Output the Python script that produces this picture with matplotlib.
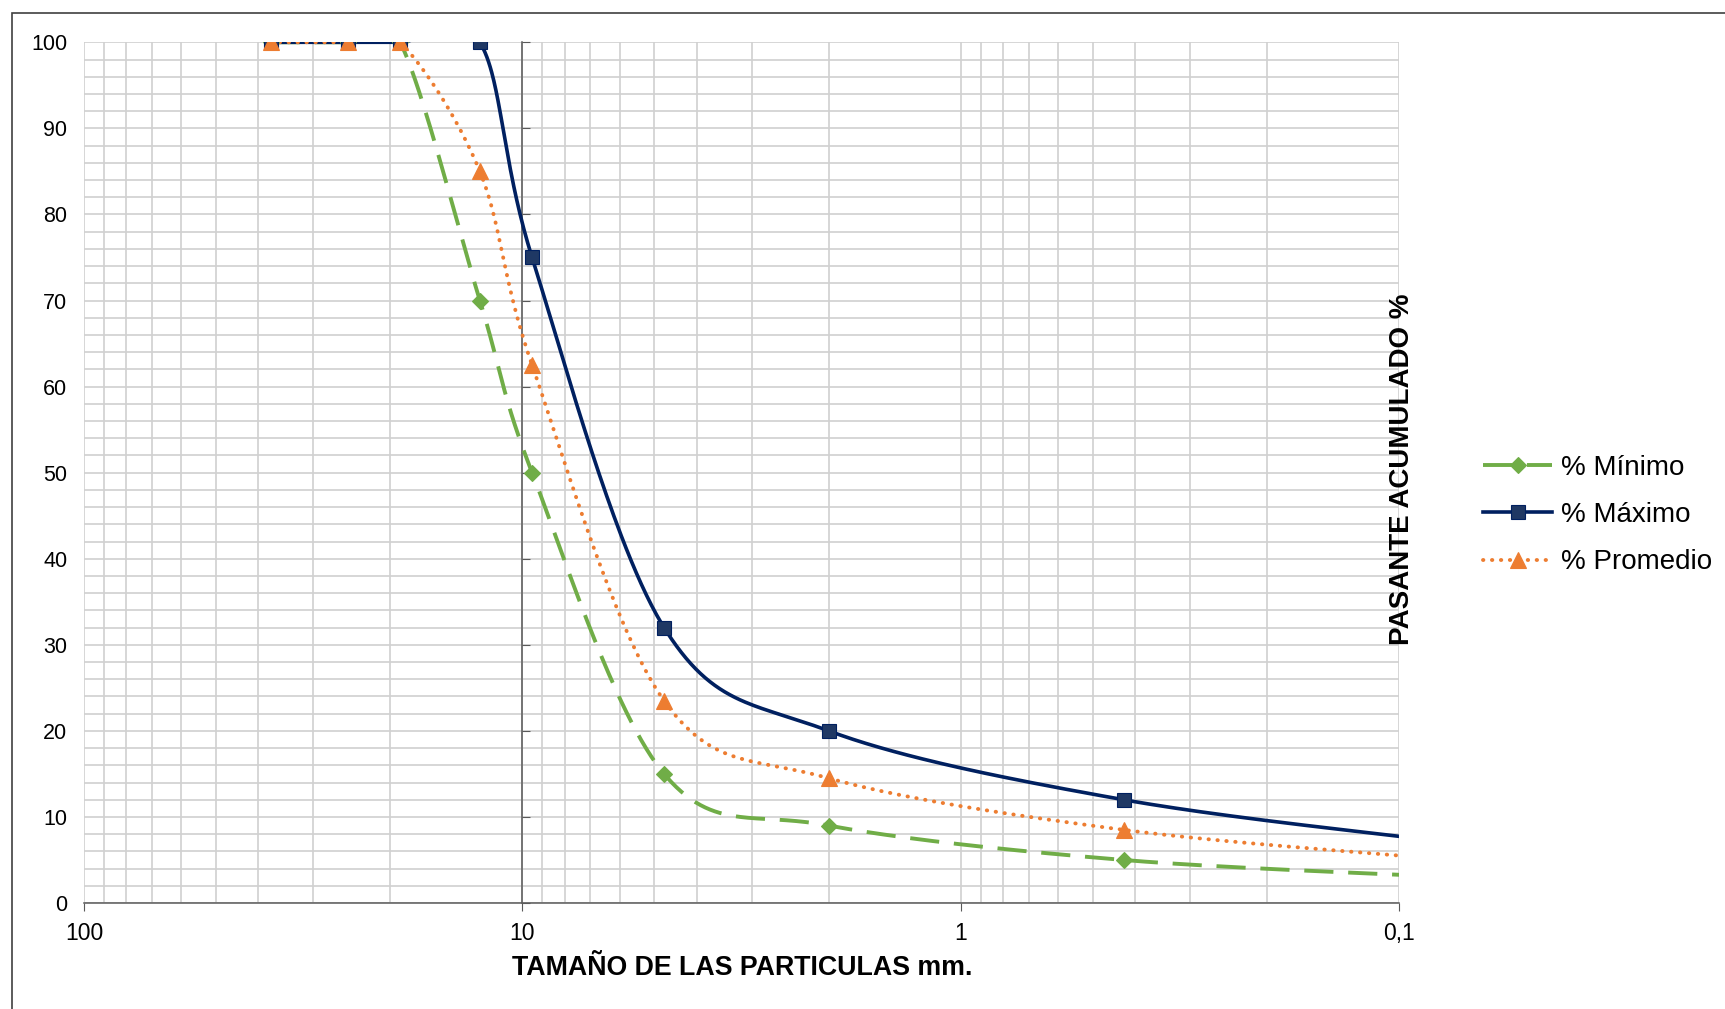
import numpy as np
import matplotlib
matplotlib.use("Agg")
import matplotlib.pyplot as plt
from matplotlib.lines import Line2D
from matplotlib.patches import Rectangle
from matplotlib.ticker import LogLocator, NullFormatter

plt.rcParams['font.family'] = ['Liberation Sans', 'DejaVu Sans']

# Granulometry limits (sieve size mm, % passing)
tamiz_mm = [37.5, 25, 19, 12.5, 9.5, 4.75, 2.0, 0.425, 0.075]
pct_minimo = [100, 100, 100, 70, 50, 15, 9, 5, 3]
pct_maximo = [100, 100, 100, 100, 75, 32, 20, 12, 7]
pct_promedio = [100, 100, 100, 85, 62.5, 23.5, 14.5, 8.5, 5]

x_ticks = [100, 10, 1, 0.1]
x_ticklabels = ['100', '10', '1', '0,1']
y_ticks = list(range(0, 101, 10))

VERDE = '#70AD47'
AZUL = '#002060'
AZUL_MARCA = '#1F3864'
NARANJA = '#ED7D31'


def suavizar(xs, ys, n=60):
    """Excel-like smoothed line (Catmull-Rom bezier) in log-x space"""
    u = np.log10(np.asarray(xs, float))
    v = np.asarray(ys, float)
    pts = np.column_stack([u, v])
    out = []
    for i in range(len(pts) - 1):
        p0 = pts[max(i - 1, 0)]
        p1 = pts[i]
        p2 = pts[i + 1]
        p3 = pts[min(i + 2, len(pts) - 1)]
        c1 = p1 + (p2 - p0) / 6.0
        c2 = p2 - (p3 - p1) / 6.0
        t = np.linspace(0, 1, n)[:, None]
        seg = ((1 - t) ** 3) * p1 + 3 * ((1 - t) ** 2) * t * c1 \
            + 3 * (1 - t) * t ** 2 * c2 + t ** 3 * p2
        out.append(seg if i == 0 else seg[1:])
    out = np.vstack(out)
    return 10 ** out[:, 0], out[:, 1]


fig = plt.figure(figsize=(17.25, 10.09), dpi=100)
W, H = 1725, 1009
ax = fig.add_axes([84 / W, 1 - 903 / H, (1399 - 84) / W, (903 - 42.3) / H])

ax.set_xscale('log')
ax.set_xlim(100, 0.1)
ax.set_ylim(0, 100)
ax.set_xticks(x_ticks)
ax.set_xticklabels(x_ticklabels)
ax.xaxis.set_minor_locator(LogLocator(base=10, subs=range(2, 10)))
ax.xaxis.set_minor_formatter(NullFormatter())
ax.set_yticks(y_ticks)
ax.set_yticks(range(0, 101, 2), minor=True)
ax.set_axisbelow(True)
ax.grid(True, which='both', color='#D0D0D0', lw=1.2)

for s in ['top', 'right']:
    ax.spines[s].set_visible(False)
ax.spines['bottom'].set_color('#595959')
ax.spines['bottom'].set_linewidth(1.1)
# vertical axis crosses at 10 mm
ax.spines['left'].set_position(('data', 10))
ax.spines['left'].set_color('#595959')
ax.spines['left'].set_linewidth(1.1)

ax.tick_params(axis='x', which='major', length=6, color='#595959',
               labelsize=16.5, pad=8)
ax.tick_params(axis='x', which='minor', length=0)
ax.tick_params(axis='y', which='major', direction='in', length=6,
               color='#595959', labelleft=False)
ax.tick_params(axis='y', which='minor', length=0)

# y labels stay at the left edge of the plot
sec = ax.secondary_yaxis(0.0)
sec.set_yticks(y_ticks)
sec.spines['left'].set_visible(False)
sec.tick_params(length=0, labelsize=15.5, pad=12)

series = [
    (pct_minimo, VERDE, VERDE, 'D', 8,
     dict(ls=(0, (7.5, 3.8)), lw=2.8, dash_capstyle='butt'), '% Mínimo'),
    (pct_maximo, AZUL, AZUL_MARCA, 's', 10.5, dict(ls='-', lw=2.6), '% Máximo'),
    (pct_promedio, NARANJA, NARANJA, '^', 11.5,
     dict(ls=(0, (0.1, 2.2)), lw=2.8, dash_capstyle='round'), '% Promedio'),
]

handles = []
for ys, col, mcol, mk, ms, estilo, nombre in series:
    xs_s, ys_s = suavizar(tamiz_mm, ys)
    ax.plot(xs_s, ys_s, color=col, zorder=3, **estilo)
    ax.plot(tamiz_mm, ys, ls='none', marker=mk, ms=ms, mfc=mcol, mec=col,
            mew=0.8, zorder=4)
    handles.append(Line2D([], [], color=col, marker=mk, ms=ms, mfc=mcol,
                          mec=col, mew=0.8, label=nombre, **estilo))

fig.legend(handles=handles, loc='center left',
           bbox_to_anchor=(1483 / W, 1 - 515 / H), frameon=False,
           fontsize=20, handlelength=2.5, handletextpad=0.3,
           labelspacing=0.77, borderpad=0, borderaxespad=0)

fig.text(742 / W, 1 - 968 / H, 'TAMAÑO DE LAS PARTICULAS mm.',
         ha='center', va='center', fontsize=19.3, fontweight='bold')
fig.text(1402 / W, 1 - 469 / H, 'PASANTE ACUMULADO %', rotation=90,
         ha='center', va='center', fontsize=20, fontweight='bold')

# outer chart frame
fig.patches.append(Rectangle((12 / W, -0.05), 2, 1 - 12.7 / H + 0.05,
                             transform=fig.transFigure, fill=False,
                             ec='#404040', lw=1.2))

fig.savefig('out.png', dpi=100)
